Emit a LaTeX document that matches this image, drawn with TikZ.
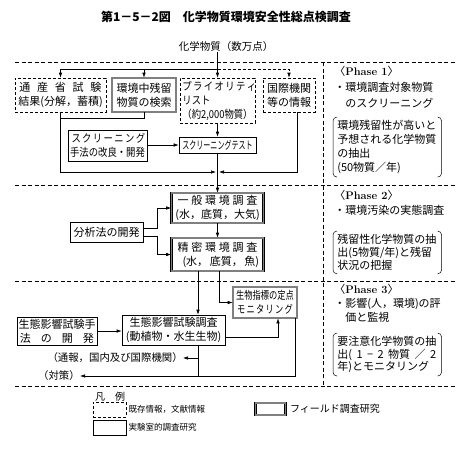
\documentclass[tikz,border=0pt]{standalone}
\usepackage{fontspec}
\usetikzlibrary{arrows.meta}
\newfontfamily\jp{Noto Sans CJK JP}
\newfontfamily\jpn[FakeStretch=0.85]{Noto Sans CJK JP}
\newfontfamily\jpm[FakeStretch=0.75]{Noto Sans CJK JP}
\newfontfamily\jpc[FakeStretch=0.64]{Noto Sans CJK JP}

\begin{document}
\begin{tikzpicture}[x=1pt,y=-1pt,line width=.6pt,
  txt/.style={inner sep=0pt,align=center,font=\jp\fontsize{11}{14}\selectfont},
  lit/.style={txt,draw,dash pattern=on 3pt off 2pt},
  lab/.style={txt,draw},
  field/.style={txt,draw,double=black!50,double distance=1.5pt},
  arr/.style={-{Latex[length=5pt,width=3.5pt]}},
  sep/.style={dash pattern=on 4pt off 2.5pt,line width=.5pt},
  brk/.style={rounded corners=4pt,line width=.5pt}]
  \useasboundingbox (0,0) rectangle (465,451);

  \node[txt,font=\jp\bfseries\fontsize{12}{14}\selectfont] (title) at (226,17) {第1－5－2図\quad 化学物質環境安全性総点検調査};
  \node[txt,font=\jp\fontsize{10.5}{13}\selectfont] (chem) at (226,47) {化学物質（数万点）};

  \draw[sep] (15,62) -- (455,62);
  \draw[sep] (15,185) -- (455,185);
  \draw[sep] (15,281) -- (455,281);
  \draw[sep] (15,386) -- (455,386);
  \draw[sep] (323,62) -- (323,386);

  % Phase 1
  \node[lit,minimum width=91pt,minimum height=34pt] (tsusan) at (60.5,95) {\makebox[82pt][s]{通 産 省 試 験}\\結果(分解，蓄積)};
  \node[field,minimum width=64pt,minimum height=34pt] (kensaku) at (144,95) {環境中残留\\物質の検索};
  \node[lit,minimum width=75pt,minimum height=45pt,align=left,font=\jpn\fontsize{11}{14}\selectfont] (prio) at (217.5,100.5) {\makebox[68pt][s]{プ ラ イ オ リ テ ィ}\\リスト\\（約2,000物質）};
  \node[lit,minimum width=52pt,minimum height=34pt] (kokusai) at (289,95) {国際機関\\等の情報};
  \node[lab,minimum width=79pt,minimum height=31pt,font=\jpn\fontsize{11}{14}\selectfont] (shuho) at (107.5,145.5) {\makebox[72pt][s]{ス ク リ ー ニ ン グ}\\手法の改良・開発};
  \node[lab,minimum width=77pt,minimum height=16pt,font=\jpc\fontsize{11}{14}\selectfont] (test) at (217.5,145) {スクリーニングテスト};

  \coordinate (top) at (217.5,69);
  \coordinate (j1) at (217.5,172);
  \draw[arr] (chem.south -| prio.north) -- (prio.north);
  \draw (tsusan.north |- top) -- (top);
  \draw[arr] (tsusan.north |- top) -- (tsusan.north);
  \draw[arr] (kensaku.north |- top) -- (kensaku.north);
  \draw[arr,dash pattern=on 3pt off 2pt] (top) -| (kokusai.north);
  \draw (kensaku.south) |- ([yshift=-6pt]tsusan.south);
  \draw[arr] (tsusan.south) |- ([xshift=-1.5pt]j1);
  \draw[arr] ([xshift=8pt]kokusai.south) |- ([xshift=1.5pt]j1);
  \draw[arr] (prio.south) -- (test.north);
  \draw[arr] (shuho.east |- test) -- (test.west);

  % Phase 2
  \node[field,minimum width=92pt,minimum height=30pt] (ippan) at (217.5,208) {\makebox[80pt][s]{一 般 環 境 調 査}\\(水，底質，大気)};
  \node[field,minimum width=92pt,minimum height=33pt] (seimitsu) at (217.5,254.5) {\makebox[80pt][s]{精 密 環 境 調 査}\\\makebox[70pt][s]{(水， 底質， 魚)}};
  \node[lab,minimum width=73pt,minimum height=20pt] (bunseki) at (106.5,232) {分析法の開発};
  \draw[arr] (test.south) -- (ippan.north);
  \draw[arr] (ippan) -- (seimitsu);
  \draw[arr] ([yshift=4pt]bunseki.east) -- ++(14,0) |- (ippan.west);
  \draw[arr] ([yshift=-4pt]bunseki.east) -- ++(14,0) |- (seimitsu.west);

  % Phase 3
  \node[field,minimum width=64pt,minimum height=31pt,font=\jpm\fontsize{11}{14}\selectfont] (teiten) at (265,302.5) {生物指標の定点\\\makebox[56pt][s]{モ ニ タ リ ン グ}};
  \node[lab,minimum width=103pt,minimum height=30pt] (eikyo) at (173.5,330) {生態影響試験調査\\(動植物・水生生物)};
  \node[lab,minimum width=80pt,minimum height=28pt] (shuhoL) at (57,331) {生態影響試験手\\\makebox[74pt][s]{法 の 開 発}};
  \node[txt,anchor=east,font=\jp\fontsize{10.4}{13}\selectfont] (tsuho) at (183,358) {（通報，国内及び国際機関）};
  \node[txt,anchor=east,font=\jp\fontsize{10.4}{13}\selectfont] (taisaku) at (80,376) {（対策）};
  \draw[arr] ([xshift=-19.5pt]seimitsu.south) -- ([xshift=-19.5pt]seimitsu.south |- eikyo.north);
  \draw[arr] ([xshift=2pt]seimitsu.south) |- (teiten.west);
  \draw[arr] (shuhoL.east) -- (shuhoL.east -| eikyo.west);
  \draw[arr] ([yshift=-7pt]eikyo.east) -| ([xshift=13pt]teiten.south);
  \draw ([xshift=24.5pt]eikyo.south) -- ([xshift=24.5pt]eikyo.south |- taisaku);
  \draw[arr] ([xshift=24.5pt]eikyo.south |- tsuho) -- (tsuho.east);
  \draw[arr] ([xshift=30pt]teiten.south) |- (taisaku.east);

  % right column
  \node[txt,anchor=north west,align=left,font=\jp\fontsize{11}{16}\selectfont] (ph1) at (334,66) {〈{\rmfamily\bfseries Phase 1}〉\\・環境調査対象物質\\\quad のスクリーニング};
  \node[txt,anchor=north west,align=left,font=\jp\fontsize{11}{14}\selectfont] (ph1b) at (337,120) {環境残留性が高いと\\予想される化学物質\\の抽出\\(50物質／年)};
  \node[txt,anchor=north west,align=left,font=\jp\fontsize{11}{15}\selectfont] (ph2) at (334,190) {〈{\rmfamily\bfseries Phase 2}〉\\・環境汚染の実態調査};
  \node[txt,anchor=north west,align=left,font=\jp\fontsize{11}{13}\selectfont] (ph2b) at (337,234) {残留性化学物質の抽\\出(5物質/年)と残留\\状況の把握};
  \node[txt,anchor=north west,align=left,font=\jp\fontsize{11}{14}\selectfont] (ph3) at (334,284) {〈{\rmfamily\bfseries Phase 3}〉\\・影響(人，環境)の評\\\quad 価と監視};
  \node[txt,anchor=north west,align=left,font=\jp\fontsize{11}{12.5}\selectfont] (ph3b) at (337,336) {要注意化学物質の抽\\\makebox[99pt][s]{出( 1 − 2 物質 ／ 2}\\年)とモニタリング};
  \foreach \b in {ph1b,ph2b,ph3b} {
    \draw[brk] ([shift={(0pt,3pt)}]\b.north west) -- ([shift={(-4pt,3pt)}]\b.north west) -- ([shift={(-4pt,-3pt)}]\b.south west) -- ([shift={(0pt,-3pt)}]\b.south west);
    \draw[brk] ([shift={(1pt,3pt)}]\b.north east) -- ([shift={(5pt,3pt)}]\b.north east) -- ([shift={(5pt,-3pt)}]\b.south east) -- ([shift={(1pt,-3pt)}]\b.south east);
  }

  % legend
  \node[txt,font=\jp\fontsize{10}{12}\selectfont] (hanrei) at (110,397) {凡\quad 例};
  \node[lit,minimum width=33pt,minimum height=15pt] (lg1) at (109.5,409.5) {};
  \node[txt,anchor=west,font=\jp\fontsize{8.5}{10}\selectfont] (lg1t) at ([xshift=2pt]lg1.east) {既存情報，文献情報};
  \node[field,minimum width=30pt,minimum height=12pt] (lg2) at (270.5,409) {};
  \node[txt,anchor=west,font=\jp\fontsize{10}{10}\selectfont] (lg2t) at ([xshift=4pt]lg2.east) {フィールド調査研究};
  \node[lab,minimum width=33pt,minimum height=15pt] (lg3) at (109.5,427.5) {};
  \node[txt,anchor=west,font=\jp\fontsize{8.5}{10}\selectfont] (lg3t) at ([xshift=2pt]lg3.east) {実験室的調査研究};
\end{tikzpicture}
\end{document}
